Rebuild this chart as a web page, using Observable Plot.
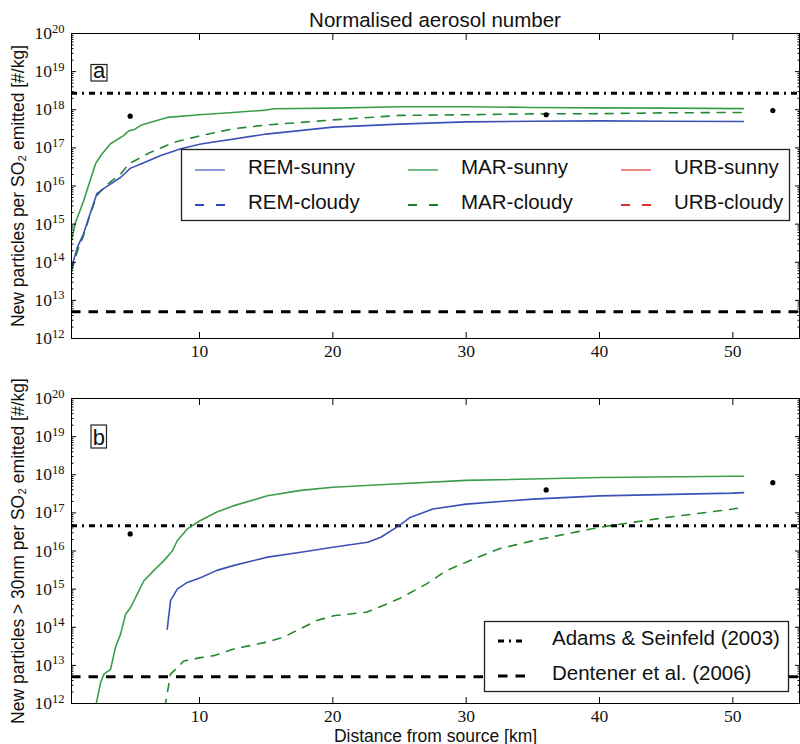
<!DOCTYPE html>
<html>
<head>
<meta charset="utf-8">
<script src="https://cdn.jsdelivr.net/npm/d3@7"></script>
<script src="https://cdn.jsdelivr.net/npm/@observablehq/plot@0.6"></script>
<style>
  body { margin: 0; background: #fff; }
  #chart { position: relative; width: 800px; height: 744px; }
  #chart > div, #chart > svg { position: absolute; left: 0; }
  g[aria-label$="axis label"] text { font-family: "Liberation Sans", Arial, sans-serif; font-size: 17.5px; fill: #111; }
  #notes text { font-family: "Liberation Sans", Arial, sans-serif; fill: #111; }
</style>
</head>
<body>
<div id="chart">
  <div id="panelA" style="top:0"></div>
  <div id="panelB" style="top:365px"></div>
  <svg id="notes" width="800" height="744" style="top:0"></svg>
</div>
<script>
// ---- Panel a: new particles per SO2 emitted [#/kg] vs distance [km] ----
const remSunnyA_x = [0.4, 0.85, 1.3, 1.8, 2.3, 3.0, 4.1, 4.8, 5.6, 7.1, 8.6, 10.1, 15, 20, 25, 30, 35, 40, 45, 50.8];
const remSunnyA_n = [7.2e13, 2.5e14, 5.6e14, 1.9e15, 6.3e15, 9.5e15, 1.7e16, 2.9e16, 3.8e16, 6.3e16, 9.5e16, 1.26e17, 2.3e17, 3.5e17, 4.2e17, 4.8e17, 5.0e17, 5.1e17, 5.0e17, 4.9e17];

const marSunnyA_x = [0.4, 0.7, 1.3, 1.8, 2.2, 2.6, 3.3, 4.3, 4.7, 5.1, 5.6, 6.6, 7.6, 10, 12.5, 15, 15.6, 20, 25, 30, 35, 40, 45, 50.8];
const marSunnyA_n = [3.7e14, 1.1e15, 4.0e15, 1.4e16, 3.8e16, 6.3e16, 1.26e17, 2.1e17, 2.8e17, 3.0e17, 3.9e17, 5.0e17, 6.3e17, 7.4e17, 8.5e17, 9.8e17, 1.06e18, 1.1e18, 1.2e18, 1.2e18, 1.15e18, 1.12e18, 1.1e18, 1.07e18];

const marCloudyA_x = [0.4, 0.85, 1.3, 1.8, 2.3, 3.0, 4.1, 4.7, 6.3, 8.1, 10.1, 12.6, 15.1, 20, 25, 30, 35, 40, 45, 50.8];
const marCloudyA_n = [6.0e13, 2.0e14, 5.0e14, 1.8e15, 5.6e15, 1.05e16, 2.1e16, 3.8e16, 7.6e16, 1.4e17, 2.1e17, 3.2e17, 4.0e17, 5.4e17, 7.1e17, 7.4e17, 7.8e17, 7.9e17, 8.3e17, 8.5e17];

// ---- Panel b: new particles > 30 nm per SO2 emitted [#/kg] ----
const remSunnyB_x = [7.58, 7.83, 8.33, 9.08, 10.07, 11.3, 12.6, 15.1, 17.6, 20, 22.6, 23.6, 25, 25.8, 27.5, 30, 35, 40, 50, 50.8];
const remSunnyB_n = [8.9e13, 5.0e14, 1.0e15, 1.5e15, 2.0e15, 3.1e15, 4.2e15, 6.9e15, 9.3e15, 1.26e16, 1.7e16, 2.3e16, 4.7e16, 7.6e16, 1.26e17, 1.7e17, 2.3e17, 2.8e17, 3.3e17, 3.4e17];

const marSunnyB_x = [2.2, 2.58, 2.83, 3.33, 3.7, 4.08, 4.46, 4.83, 5.33, 5.83, 6.58, 7.33, 7.96, 8.33, 9.08, 10.07, 11.3, 12.6, 15.1, 17.6, 20, 25, 30, 40, 50, 50.8];
const marSunnyB_n = [8.0e11, 3.5e12, 5.9e12, 7.9e12, 3.0e13, 6.6e13, 2.2e14, 3.3e14, 7.4e14, 1.66e15, 3.1e15, 5.6e15, 1.0e16, 1.86e16, 3.8e16, 6.3e16, 1.05e17, 1.55e17, 2.8e17, 3.9e17, 4.7e17, 5.8e17, 7.1e17, 8.5e17, 9.1e17, 9.1e17];

const marCloudyB_x = [7.4, 7.83, 8.82, 10.07, 11.07, 12.57, 15.07, 16.3, 17.56, 18.8, 20.06, 22.56, 24.06, 25.05, 27, 28.55, 30, 32.5, 35, 40, 45, 50, 50.8];
const marCloudyB_n = [8.0e11, 5.9e12, 1.3e13, 1.6e13, 1.8e13, 2.7e13, 4.1e13, 5.5e13, 9.1e13, 1.5e14, 2.0e14, 2.5e14, 4.1e14, 5.8e14, 1.35e15, 3.1e15, 5.1e15, 1.15e16, 1.86e16, 4.2e16, 7.6e16, 1.26e17, 1.4e17];

// Observed points (black dots) and literature reference values
const obs_x = [4.8, 36, 53];
const obsA_n = [6.8e17, 7.4e17, 9.5e17];
const obsB_n = [2.8e16, 4.0e17, 6.2e17];
const adamsA = 2.7e18, adamsB = 4.6e16;
const dentener = 5e12;

// Axis ticks
const decades = [1e12, 1e13, 1e14, 1e15, 1e16, 1e17, 1e18, 1e19, 1e20];
const minorSteps = [2, 3, 4, 5, 6, 7, 8, 9];
const minorTicks = decades.slice(0, -1).flatMap(d => minorSteps.map(k => k * d));
const xTicks = [10, 20, 30, 40, 50];

// Legend entries
const legendNames = ["REM-sunny", "REM-cloudy", "MAR-sunny", "MAR-cloudy", "URB-sunny", "URB-cloudy"];
const legendColors = ["#7f93d3", "#2c47c2", "#63b57a", "#1d7f2b", "#f07b7b", "#e5322e"];
const refNames = ["Adams & Seinfeld (2003)", "Dentener et al. (2006)"];

const BLUE = "#3b51b6", GREEN = "#3b9e4a", GREEN_D = "#24882f";
const DASH = "8,8", DASHDOT = "6,5,2,5", THICKDASH = "9.5,8";
const tickFont = {fontFamily: "Liberation Serif, serif", fontSize: 17.5, fill: "#111"};

function pts(xs, ns) { return xs.map((x, i) => ({x, n: ns[i]})); }

function panel({curves, obs, adams, yLabel, xLabel, height, marginBottom}) {
  const svg = Plot.plot({
    width: 800, height, marginTop: 33, marginLeft: 71, marginRight: 1, marginBottom,
    x: {domain: [0.4, 55]},
    y: {type: "log", domain: [1e12, 1e20]},
    marks: [
      Plot.ruleY([adams], {stroke: "black", strokeWidth: 3, strokeDasharray: DASHDOT}),
      Plot.ruleY([dentener], {stroke: "black", strokeWidth: 3, strokeDasharray: THICKDASH}),
      ...curves.map(c => Plot.line(pts(c.x, c.n), {x: "x", y: "n", stroke: c.color, strokeWidth: 1.6, strokeDasharray: c.dash, clip: true})),
      Plot.dot(pts(obs_x, obs), {x: "x", y: "n", r: 2.6, fill: "black"}),
      Plot.frame({stroke: "black", strokeWidth: 1}),
      // inward major and minor ticks on all four sides
      Plot.axisY(decades, {tickSize: -5, text: null, label: null}),
      Plot.axisY(decades, {anchor: "right", tickSize: -5, text: null, label: null}),
      Plot.axisY(minorTicks, {tickSize: -2.5, text: null, label: null}),
      Plot.axisY(minorTicks, {anchor: "right", tickSize: -2.5, text: null, label: null}),
      Plot.axisX(xTicks, {tickSize: -6, text: null, label: null}),
      Plot.axisX(xTicks, {anchor: "top", tickSize: -6, text: null, label: null}),
      // tick labels
      Plot.axisY(decades, {tickSize: 0, tickPadding: 7, tickFormat: d => "10^" + Math.round(Math.log10(d)), label: null, ...tickFont}),
      Plot.axisX(xTicks, {tickSize: 0, tickPadding: 6, tickFormat: d => String(d), label: null, ...tickFont}),
      // axis titles
      Plot.axisY(decades, {tickSize: 0, text: null, label: yLabel, labelAnchor: "center", labelOffset: 60, labelArrow: "none"}),
      ...(xLabel ? [Plot.axisX(xTicks, {tickSize: 0, text: null, label: xLabel, labelAnchor: "center", labelOffset: 38, labelArrow: "none"})] : [])
    ]
  });
  // exponent labels: 10^n -> 10 with raised n
  d3.select(svg).selectAll('g[aria-label="y-axis tick label"] text').each(function () {
    const m = /^10\^(\d+)$/.exec(this.textContent);
    if (!m) return;
    this.textContent = "10";
    d3.select(this).append("tspan").attr("dy", "-6.5").attr("font-size", "12.5px").text(m[1]);
  });
  return svg;
}

document.getElementById("panelA").append(panel({
  curves: [
    {x: marCloudyA_x, n: marCloudyA_n, color: GREEN_D, dash: DASH},
    {x: remSunnyA_x, n: remSunnyA_n, color: BLUE, dash: null},
    {x: marSunnyA_x, n: marSunnyA_n, color: GREEN, dash: null}
  ],
  obs: obsA_n, adams: adamsA,
  yLabel: "New particles per SO\u2082 emitted [#/kg]", xLabel: null,
  height: 360, marginBottom: 22
}));

document.getElementById("panelB").append(panel({
  curves: [
    {x: marCloudyB_x, n: marCloudyB_n, color: GREEN_D, dash: DASH},
    {x: remSunnyB_x, n: remSunnyB_n, color: BLUE, dash: null},
    {x: marSunnyB_x, n: marSunnyB_n, color: GREEN, dash: null}
  ],
  obs: obsB_n, adams: adamsB,
  yLabel: "New particles > 30nm per SO\u2082 emitted [#/kg]", xLabel: "Distance from source [km]",
  height: 379, marginBottom: 41
}));

// ---- Title, panel tags and legends ----
const notes = d3.select("#notes");
notes.append("text").attr("x", 435).attr("y", 26.5).attr("text-anchor", "middle")
  .attr("font-size", "20.5px").text("Normalised aerosol number");

function tag(label, x, y, w, h, baseline) {
  notes.append("rect").attr("x", x).attr("y", y).attr("width", w).attr("height", h)
    .attr("fill", "white").attr("stroke", "#222").attr("stroke-width", 1.2);
  notes.append("text").attr("x", x + w / 2).attr("y", baseline).attr("text-anchor", "middle")
    .attr("font-size", "22px").text(label);
}
tag("a", 91, 64.5, 16, 16.5, 78.3);
tag("b", 91, 425, 15.5, 23, 445);

// Legend of model runs (panel a)
notes.append("rect").attr("x", 181.5).attr("y", 149.5).attr("width", 608).attr("height", 71)
  .attr("fill", "white").attr("stroke", "#222").attr("stroke-width", 1.3);
legendNames.forEach((name, i) => {
  const col = Math.floor(i / 2), row = i % 2;
  const x0 = 195 + 213 * col, y0 = 170 + 35 * row;
  notes.append("line").attr("x1", x0).attr("x2", x0 + 30).attr("y1", y0).attr("y2", y0)
    .attr("stroke", legendColors[i]).attr("stroke-width", 1.8)
    .attr("stroke-dasharray", row ? "9,12" : null);
  notes.append("text").attr("x", x0 + 53).attr("y", y0 + 3.5).attr("font-size", "20.5px").text(name);
});

// Legend of literature estimates (panel b)
notes.append("rect").attr("x", 484.5).attr("y", 621.5).attr("width", 304).attr("height", 70)
  .attr("fill", "white").attr("stroke", "#222").attr("stroke-width", 1.3);
refNames.forEach((name, i) => {
  const y0 = 641 + 35 * i;
  notes.append("line").attr("x1", 498).attr("x2", 526).attr("y1", y0).attr("y2", y0)
    .attr("stroke", "black").attr("stroke-width", 3)
    .attr("stroke-dasharray", i ? "9.5,8" : "6,5,2,5");
  notes.append("text").attr("x", 552).attr("y", y0 + 3.5).attr("font-size", "20.5px").text(name);
});
</script>
</body>
</html>
